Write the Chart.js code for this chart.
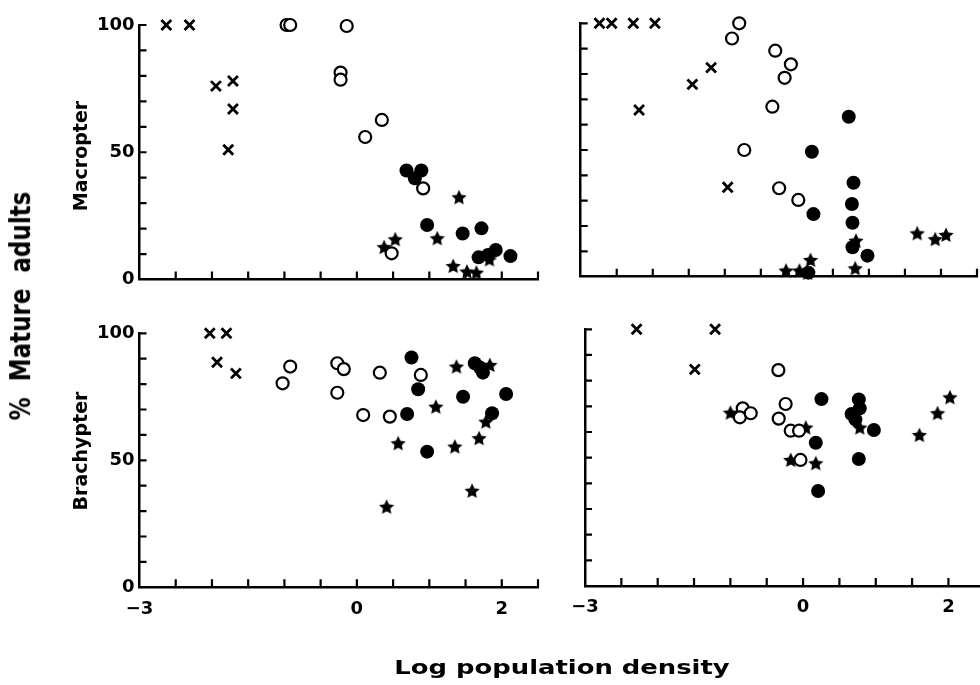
<!DOCTYPE html>
<html><head><meta charset="utf-8">
<script src="https://cdn.jsdelivr.net/npm/chart.js@4/dist/chart.umd.min.js"></script>
<style>
html,body{margin:0;padding:0;background:#fff;overflow:hidden;width:980px;height:685px;position:relative;}
canvas{position:absolute;left:0;top:0;}
.t{position:absolute;font-family:"DejaVu Sans";font-weight:bold;color:#000;white-space:pre;line-height:1;}
</style></head><body>
<canvas id="c1" width="1000" height="685"></canvas>
<canvas id="c2" width="1000" height="685"></canvas>
<canvas id="c3" width="1000" height="685"></canvas>
<canvas id="c4" width="1000" height="685"></canvas>
<div class="t" id="xt" style="left:562px;top:658px;font-size:19px;transform:translateX(-50%) scaleX(1.36);">Log population density</div>
<div class="t" style="left:21px;top:306px;font-size:23px;transform:translate(-50%,-50%) rotate(-90deg) scaleY(1.25);">%  Mature  adults</div>
<div class="t" style="left:80px;top:156px;font-size:19px;transform:translate(-50%,-50%) rotate(-90deg);">Macropter</div>
<div class="t" style="left:80px;top:451px;font-size:19px;transform:translate(-50%,-50%) rotate(-90deg);">Brachypter</div>
<script>
// ---- axis tick values ----
const xTickLabels = [-3, 0, 2];
const yTickLabels = [0, 50, 100];

// ---- Macropter, left panel ----
const macroLeftCross  = [[-2.63,100],[-2.31,100],[-1.945,76],[-1.71,78],[-1.71,67],[-1.775,51]];
const macroLeftOpen   = [[-0.97,100],[-0.92,100],[-0.14,99.6],[-0.225,81.3],[-0.225,78.5],[0.115,56],[0.345,62.7],[0.915,35.8],[0.48,10.3]];
const macroLeftFilled = [[0.685,42.8],[0.80,39.8],[0.89,42.8],[0.97,21.4],[1.46,18.1],[1.72,20.1],[1.68,8.7],[1.81,9.6],[1.917,11.6],[2.12,9.2]];
const macroLeftStar   = [[1.41,32.3],[0.377,12.7],[0.53,15.8],[1.11,16.2],[1.33,5.3],[1.52,3.1],[1.65,2.7],[1.83,7.9]];

// ---- Macropter, right panel ----
const macroRightCross  = [[-2.74,100],[-2.57,100],[-2.27,100],[-1.97,100],[-2.19,65.8],[-1.45,75.9],[-1.19,82.5],[-0.96,35.3]];
const macroRightOpen   = [[-0.80,100],[-0.90,94],[-0.30,89.2],[-0.083,83.8],[-0.17,78.5],[-0.34,67.1],[-0.73,50],[-0.246,34.9],[0.02,30.3]];
const macroRightFilled = [[0.72,63.1],[0.208,49.3],[0.786,37.1],[0.764,28.7],[0.772,21.3],[0.23,24.7],[0.772,11.6],[0.98,8.3],[0.16,1.6]];
const macroRightStar   = [[-0.15,2.4],[0.036,2.4],[0.19,6.6],[0.15,1.5],[0.82,14.2],[0.81,3.3],[1.67,17.1],[1.92,14.8],[2.07,16.5]];

// ---- Brachypter, left panel ----
const brachyLeftCross  = [[-2.03,100],[-1.80,100],[-1.93,88.6],[-1.67,84.2]];
const brachyLeftOpen   = [[-0.92,86.9],[-1.025,80.3],[-0.27,88.2],[-0.18,85.9],[-0.27,76.6],[0.317,84.5],[0.883,83.6],[0.087,67.8],[0.455,67.2]];
const brachyLeftFilled = [[0.754,90.5],[0.846,78],[0.694,68.2],[0.97,53.4],[1.466,75],[1.628,88.2],[1.70,86.5],[1.74,84.5],[2.06,76.1],[1.866,68.5]];
const brachyLeftStar   = [[1.375,86.9],[1.835,87.5],[1.09,71.1],[1.78,65.2],[0.57,56.7],[1.352,55.4],[1.687,58.7],[1.59,38],[0.41,31.7]];

// ---- Brachypter, right panel ----
const brachyRightCross  = [[-2.29,100],[-1.21,100],[-1.49,84.4]];
const brachyRightOpen   = [[-0.34,84.1],[-0.24,70.9],[-0.335,65.2],[-0.83,69.2],[-0.87,65.7],[-0.72,67.3],[-0.17,60.5],[-0.055,60.5],[-0.036,49.1]];
const brachyRightFilled = [[0.253,72.8],[0.767,72.7],[0.78,69.2],[0.667,67],[0.72,64.9],[0.974,60.8],[0.175,55.8],[0.767,49.5],[0.207,37]];
const brachyRightStar   = [[-1.0,67.5],[0.037,61.7],[-0.17,49.1],[0.175,47.8],[0.78,61.7],[1.6,58.8],[1.85,67.3],[2.02,73.5]];

const W = 1000, H = 685;
const YW = 60, XH = 40;   // fixed axis box sizes
const FONT = {family:'DejaVu Sans', weight:'bold', size:18};

// filled five-pointed star marker
function makeStar(size){
  const c = document.createElement('canvas');
  c.width = size; c.height = size;
  const g = c.getContext('2d');
  const cx = size/2, cy = size/2 + 0.6, R = size/2, r = R*0.48;
  g.beginPath();
  for (let i=0;i<10;i++){
    const a = -Math.PI/2 + i*Math.PI/5;
    const rr = (i%2===0)?R:r;
    const px = cx + rr*Math.cos(a), py = cy + rr*Math.sin(a);
    if(i===0) g.moveTo(px,py); else g.lineTo(px,py);
  }
  g.closePath(); g.fillStyle='#000'; g.fill();
  return c;
}
const starImg = makeStar(16);

const inwardTicks = {
  id:'inwardTicks',
  beforeDatasetsDraw(chart){
    const {ctx, chartArea:a, scales:{x,y}} = chart;
    ctx.save(); ctx.strokeStyle='#000'; ctx.lineWidth=2.2;
    ctx.beginPath();
    x.ticks.forEach(t=>{ const px=x.getPixelForValue(t.value); if (Math.abs(px-a.left)<1) return; ctx.moveTo(px,a.bottom); ctx.lineTo(px,a.bottom-8); });
    y.ticks.forEach(t=>{ const py=y.getPixelForValue(t.value); if (Math.abs(py-a.bottom)<1) return; ctx.moveTo(a.left,py); ctx.lineTo(a.left+7,py); });
    ctx.stroke(); ctx.restore();
  }
};

function makeChart(id, area, showX, showY, cross, open, filled, star){
  const toPts = arr => arr.map(p=>({x:p[0], y:p[1]}));
  new Chart(document.getElementById(id), {
    type:'scatter',
    data:{datasets:[
      {data:toPts(open), pointStyle:'circle', pointRadius:6, borderWidth:2.2, borderColor:'#000', backgroundColor:'#fff', order:1, clip:false},
      {data:toPts(cross), pointStyle:'crossRot', pointRadius:7, borderWidth:2.8, borderColor:'#000', backgroundColor:'#000', order:2, clip:false},
      {data:toPts(star), pointStyle:starImg, pointRadius:8, order:3, clip:false},
      {data:toPts(filled), pointStyle:'circle', pointRadius:7, borderWidth:0, borderColor:'#000', backgroundColor:'#000', order:4, clip:false}
    ]},
    options:{
      responsive:false, animation:false, devicePixelRatio:1,
      events:[],
      layout:{padding:{left:area.l-YW, top:area.t, right:W-area.r, bottom:H-area.b-XH}},
      plugins:{legend:{display:false}, tooltip:{enabled:false}},
      scales:{
        x:{type:'linear', min:-3, max:2.5,
           afterFit(s){ s.height = XH; },
           grid:{display:false, drawTicks:false},
           border:{display:true, width:2.5, color:'#000'},
           ticks:{display:showX, stepSize:0.5, autoSkip:false, maxRotation:0, minRotation:0, padding:11, color:'#000', font:FONT,
                  callback:v=> xTickLabels.includes(v) ? (v<0 ? '\u2212'+Math.abs(v) : String(v)) : ''}},
        y:{type:'linear', min:0, max:100,
           afterFit(s){ s.width = YW; },
           grid:{display:false, drawTicks:false},
           border:{display:true, width:2.5, color:'#000'},
           ticks:{display:showY, stepSize:10, autoSkip:false, padding:5, color:'#000', font:FONT,
                  callback:v=> yTickLabels.includes(v) ? String(v) : ''}}
      }
    },
    plugins:[inwardTicks]
  });
}

makeChart('c1', {l:139.5, r:538, t:25, b:279.5}, false, true, macroLeftCross, macroLeftOpen, macroLeftFilled, macroLeftStar);
makeChart('c2', {l:580.7, r:977, t:23.3, b:276.7}, false, false, macroRightCross, macroRightOpen, macroRightFilled, macroRightStar);
makeChart('c3', {l:139.5, r:538, t:333.3, b:587.3}, true, true, brachyLeftCross, brachyLeftOpen, brachyLeftFilled, brachyLeftStar);
makeChart('c4', {l:585, r:984.8, t:329.3, b:586}, true, false, brachyRightCross, brachyRightOpen, brachyRightFilled, brachyRightStar);
</script>
</body></html>
